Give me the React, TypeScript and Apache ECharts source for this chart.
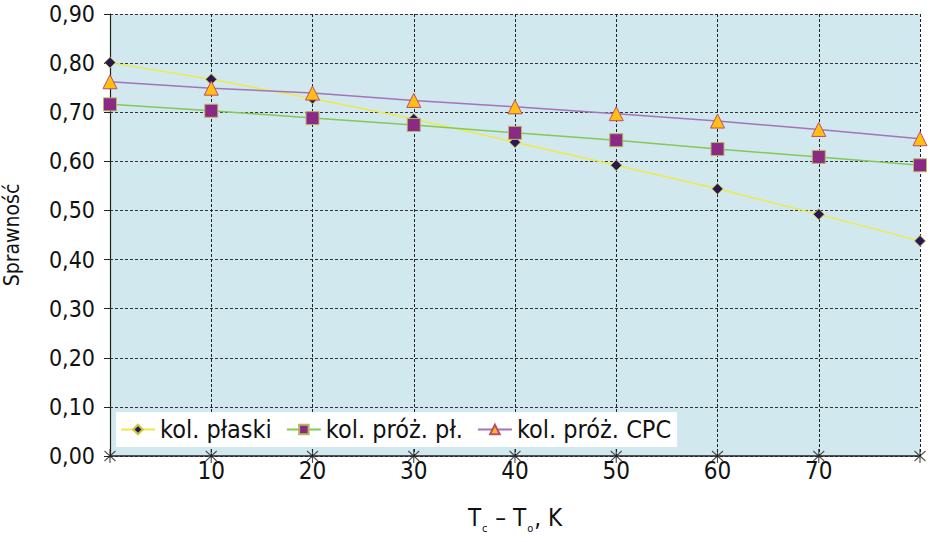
import React, { useEffect, useRef } from "react";
import * as echarts from "echarts";

const xValues = [0, 10, 20, 30, 40, 50, 60, 70, 80];
const seriesNames = ["kol. płaski", "kol. próż. pł.", "kol. próż. CPC"];
const plaski = [0.801, 0.767, 0.728, 0.686, 0.639, 0.592, 0.544, 0.492, 0.438];
const prozPl = [0.716, 0.703, 0.688, 0.674, 0.658, 0.643, 0.625, 0.609, 0.592];
const prozCpc = [0.762, 0.749, 0.739, 0.724, 0.711, 0.697, 0.682, 0.665, 0.646];
const tickValues = [0, 10, 20, 30, 40, 50, 60, 70, 80];

const FONT = "'DejaVu Sans Condensed', 'Liberation Sans Narrow', sans-serif";

export default function App() {
  const ref = useRef<HTMLDivElement>(null);
  useEffect(() => {
    document.body.style.margin = "0";
    if (!ref.current) return;
    const chart = echarts.init(ref.current, null, { renderer: "svg" });
    const pair = (arr: number[]) => xValues.map((x, i) => [x, arr[i]]);
    chart.setOption({
      animation: false,
      backgroundColor: "#ffffff",
      grid: {
        left: 110,
        right: 10,
        top: 14,
        bottom: 86,
        show: true,
        backgroundColor: "#d0e8ee",
        borderWidth: 0,
        containLabel: false,
        outerBoundsMode: "none",
      },
      legend: {
        data: seriesNames,
        left: 116,
        top: 412,
        width: 800,
        backgroundColor: "#ffffff",
        padding: [5, 6, 5, 4],
        itemGap: 14,
        itemWidth: 34,
        itemHeight: 12,
        textStyle: { fontFamily: FONT, fontSize: 25, color: "#111" },
      },
      xAxis: {
        type: "value",
        min: 0,
        max: 80,
        interval: 10,
        name: "{t|T}{s|c}{t| – T}{s|o}{t|, K}",
        nameLocation: "middle",
        nameGap: 50,
        nameTextStyle: {
          rich: {
            t: { fontFamily: FONT, fontSize: 24, color: "#111" },
            s: { fontFamily: FONT, fontSize: 11, color: "#111", verticalAlign: "bottom", padding: [0, 1, -4, 1] },
          },
        },
        axisLine: { show: true, lineStyle: { color: "#222", width: 1.5 } },
        axisTick: { show: false },
        axisLabel: {
          margin: 3,
          fontFamily: FONT,
          fontSize: 24,
          lineHeight: 24,
          color: "#111",
          formatter: (v: number) => (v === 0 || v === 80 ? "" : String(v)),
        },
        splitLine: { show: true, lineStyle: { color: "#222", type: [3, 2], width: 1 } },
      },
      yAxis: {
        type: "value",
        min: 0,
        max: 0.9,
        interval: 0.1,
        name: "Sprawność",
        nameLocation: "middle",
        nameGap: 88,
        nameTextStyle: { fontFamily: FONT, fontSize: 21, color: "#111" },
        axisLine: { show: true, lineStyle: { color: "#222", width: 1.2 } },
        axisTick: { show: true, length: 6, lineStyle: { color: "#222" } },
        axisLabel: {
          margin: 15,
          fontFamily: FONT,
          fontSize: 23,
          lineHeight: 22,
          color: "#111",
          formatter: (v: number) => v.toFixed(2).replace(".", ","),
        },
        splitLine: { show: true, lineStyle: { color: "#333", type: [3, 2], width: 1 } },
      },
      series: [
        {
          name: seriesNames[0],
          type: "line",
          data: pair(plaski),
          symbol: "diamond",
          symbolSize: 11,
          lineStyle: { color: "#eeea4a", width: 1.5 },
          itemStyle: { color: "#2b1850", borderColor: "#c8c840", borderWidth: 0.8 },
          z: 3,
        },
        {
          name: seriesNames[1],
          type: "line",
          data: pair(prozPl),
          symbol: "rect",
          symbolSize: 13,
          lineStyle: { color: "#84c858", width: 1.5 },
          itemStyle: { color: "#8a2a86", borderColor: "#b8b860", borderWidth: 1 },
          z: 4,
        },
        {
          name: seriesNames[2],
          type: "line",
          data: pair(prozCpc),
          symbol: "triangle",
          symbolSize: 14,
          lineStyle: { color: "#a474b8", width: 1.5 },
          itemStyle: { color: "#ffc010", borderColor: "#c04a6a", borderWidth: 1 },
          z: 5,
        },
        {
          name: "ticks",
          type: "scatter",
          data: tickValues.map((x) => [x, 0]),
          symbol: "path://M0,2L10,12M10,2L0,12M5,0L5,14",
          symbolSize: [11, 14],
          itemStyle: { color: "none", borderColor: "#222", borderWidth: 1.3 },
          clip: false,
          silent: true,
          z: 6,
        },
      ],
    });
    return () => chart.dispose();
  }, []);
  return <div ref={ref} style={{ width: 930, height: 542 }} />;
}
